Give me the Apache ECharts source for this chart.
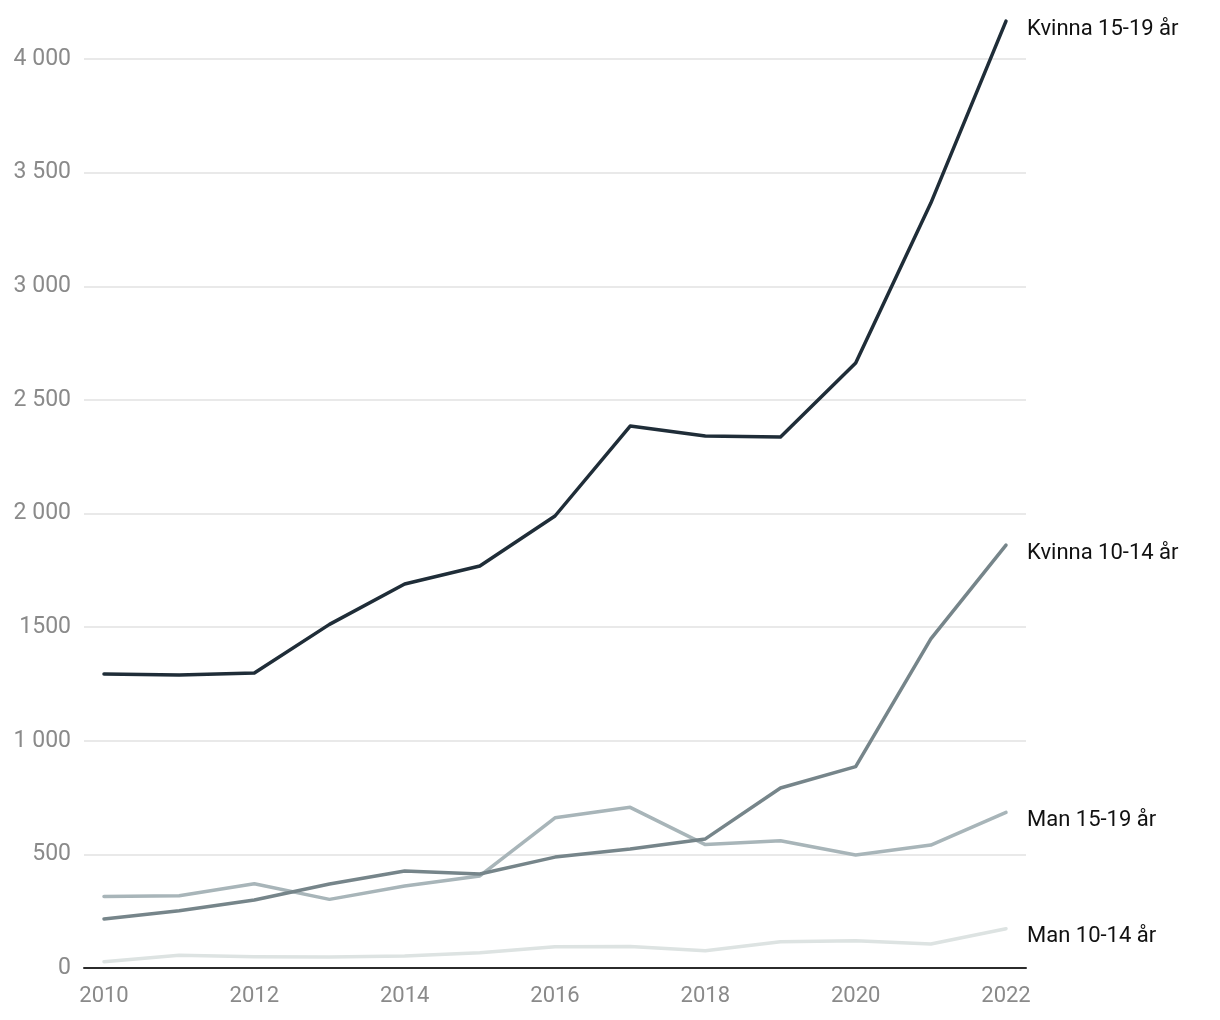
<!DOCTYPE html>
<html>
<head>
<meta charset="utf-8">
<script src="https://cdn.jsdelivr.net/npm/echarts@6/dist/echarts.min.js"></script>
<style>html,body{margin:0;padding:0;background:#fff;}#c{width:1220px;height:1020px;}</style>
</head>
<body>
<div id="c"></div>
<script>
const years = [2010,2011,2012,2013,2014,2015,2016,2017,2018,2019,2020,2021,2022];
const xTickYears = [2010,2012,2014,2016,2018,2020,2022];
const yTickValues = [0,500,1000,1500,2000,2500,3000,3500,4000];
const yTickLabels = ['0','500','1 000','1500','2 000','2 500','3 000','3 500','4 000'];
const seriesNames = ['Kvinna 15-19 år','Kvinna 10-14 år','Man 15-19 år','Man 10-14 år'];
const kvinna1519 = [1294,1289,1298,1512,1690,1769,1989,2385,2341,2337,2662,3366,4167];
const kvinna1014 = [216,252,299,370,427,414,488,524,568,792,886,1448,1861];
const man1519 = [315,318,371,302,361,405,661,707,543,560,497,541,685];
const man1014 = [28,56,50,48,53,67,94,95,76,116,120,106,173];
const colors = ['#1f2d38','#76858a','#a8b5b9','#dde3e2'];

const allValues = [kvinna1519,kvinna1014,man1519,man1014];
const font = 'Roboto';

const chart = echarts.init(document.getElementById('c'));
chart.setOption({
  animation:false,
  backgroundColor:'#fff',
  grid:{left:84,right:194,top:59,bottom:52,containLabel:false},
  xAxis:{
    type:'value',
    min:2009.734,max:2022.266,
    axisLine:{show:true,onZero:false,lineStyle:{color:'#2b2b2b',width:2}},
    axisTick:{show:false},
    splitLine:{show:false},
    axisLabel:{customValues:xTickYears,color:'#8a8a8a',fontFamily:font,fontSize:22,margin:17,formatter:v=>String(v)}
  },
  yAxis:{
    type:'value',min:0,max:4000,interval:500,
    axisLine:{show:false},axisTick:{show:false},
    splitLine:{lineStyle:{color:'#e2e2e2',width:1.5}},
    axisLabel:{color:'#8a8a8a',fontFamily:font,fontSize:23,margin:13,
      formatter:v=>{const i=yTickValues.indexOf(v);return i>=0?yTickLabels[i]:'';}}
  },
  series: allValues.map((vals,si)=>({
    name:seriesNames[si],
    type:'line',
    clip:false,
    symbol:'none',
    z:10-si,
    data: years.map((y,i)=>[y,vals[i]]),
    lineStyle:{color:colors[si],width:3.5,cap:'round',join:'round'},
    endLabel:{show:true,formatter:seriesNames[si],color:'#111',fontFamily:font,fontSize:22,distance:21,offset:[0,8]}
  }))
});
</script>
</body>
</html>
